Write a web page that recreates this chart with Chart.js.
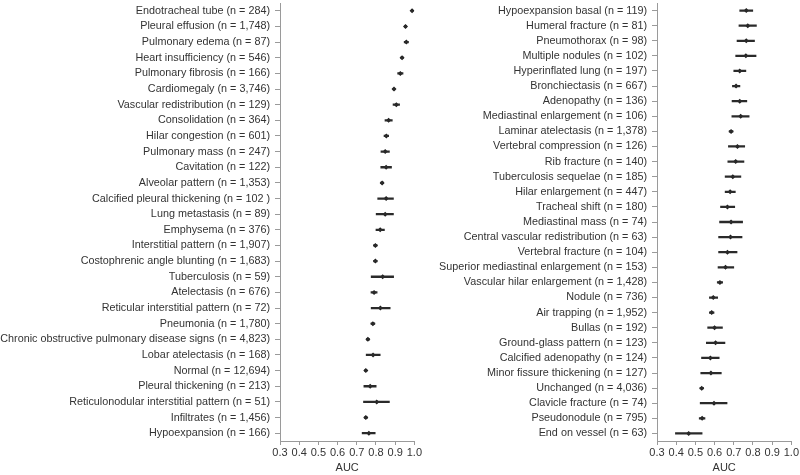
<!DOCTYPE html>
<html><head><meta charset="utf-8">
<script src="https://cdn.jsdelivr.net/npm/chart.js@4/dist/chart.umd.min.js"></script>
<style>
html,body{margin:0;padding:0;background:#fff;width:800px;height:475px;overflow:hidden;position:relative}
#c1{position:absolute;left:0;top:-1px}
#c2{position:absolute;left:420px;top:-1px}
</style></head><body>
<canvas id="c1" width="423" height="476"></canvas>
<canvas id="c2" width="380" height="476"></canvas>
<script>
// ---------- Left panel ----------
const leftLabels = [
  "Endotracheal tube (n = 284)",
  "Pleural effusion (n = 1,748)",
  "Pulmonary edema (n = 87)",
  "Heart insufficiency (n = 546)",
  "Pulmonary fibrosis (n = 166)",
  "Cardiomegaly (n = 3,746)",
  "Vascular redistribution (n = 129)",
  "Consolidation (n = 364)",
  "Hilar congestion (n = 601)",
  "Pulmonary mass (n = 247)",
  "Cavitation (n = 122)",
  "Alveolar pattern (n = 1,353)",
  "Calcified pleural thickening (n = 102 )",
  "Lung metastasis (n = 89)",
  "Emphysema (n = 376)",
  "Interstitial pattern (n = 1,907)",
  "Costophrenic angle blunting (n = 1,683)",
  "Tuberculosis (n = 59)",
  "Atelectasis (n = 676)",
  "Reticular interstitial pattern (n = 72)",
  "Pneumonia (n = 1,780)",
  "Chronic obstructive pulmonary disease signs (n = 4,823)",
  "Lobar atelectasis (n = 168)",
  "Normal (n = 12,694)",
  "Pleural thickening (n = 213)",
  "Reticulonodular interstitial pattern (n = 51)",
  "Infiltrates (n = 1,456)",
  "Hypoexpansion (n = 166)"
];
const leftAUC = [0.988,0.954,0.958,0.936,0.927,0.894,0.906,0.866,0.854,0.848,0.853,0.832,0.853,0.848,0.822,0.797,0.797,0.835,0.790,0.823,0.784,0.758,0.785,0.747,0.770,0.804,0.747,0.763];
const leftLower = [0.984,0.948,0.947,0.930,0.913,0.889,0.889,0.847,0.842,0.826,0.825,0.824,0.809,0.801,0.800,0.788,0.788,0.775,0.774,0.775,0.774,0.750,0.749,0.741,0.737,0.735,0.739,0.728];
const leftUpper = [0.992,0.960,0.969,0.942,0.941,0.899,0.923,0.885,0.866,0.870,0.881,0.840,0.891,0.891,0.844,0.806,0.806,0.892,0.806,0.874,0.794,0.766,0.822,0.753,0.801,0.870,0.755,0.796];

// ---------- Right panel ----------
const rightLabels = [
  "Hypoexpansion basal (n = 119)",
  "Humeral fracture (n = 81)",
  "Pneumothorax (n = 98)",
  "Multiple nodules (n = 102)",
  "Hyperinflated lung (n = 197)",
  "Bronchiectasis (n = 667)",
  "Adenopathy (n = 136)",
  "Mediastinal enlargement (n = 106)",
  "Laminar atelectasis (n = 1,378)",
  "Vertebral compression (n = 126)",
  "Rib fracture (n = 140)",
  "Tuberculosis sequelae (n = 185)",
  "Hilar enlargement (n = 447)",
  "Tracheal shift (n = 180)",
  "Mediastinal mass (n = 74)",
  "Central vascular redistribution (n = 63)",
  "Vertebral fracture (n = 104)",
  "Superior mediastinal enlargement (n = 153)",
  "Vascular hilar enlargement (n = 1,428)",
  "Nodule (n = 736)",
  "Air trapping (n = 1,952)",
  "Bullas (n = 192)",
  "Ground-glass pattern (n = 123)",
  "Calcified adenopathy (n = 124)",
  "Minor fissure thickening (n = 127)",
  "Unchanged (n = 4,036)",
  "Clavicle fracture (n = 74)",
  "Pseudonodule (n = 795)",
  "End on vessel (n = 63)"
];
const rightAUC = [0.765,0.773,0.765,0.763,0.731,0.712,0.731,0.736,0.686,0.719,0.710,0.695,0.681,0.667,0.686,0.683,0.667,0.657,0.628,0.593,0.585,0.600,0.605,0.578,0.581,0.533,0.597,0.535,0.465];
const rightLower = [0.731,0.727,0.717,0.710,0.700,0.693,0.691,0.690,0.676,0.672,0.669,0.655,0.655,0.631,0.626,0.621,0.621,0.618,0.614,0.573,0.573,0.564,0.557,0.532,0.528,0.524,0.525,0.520,0.396];
const rightUpper = [0.799,0.818,0.808,0.816,0.763,0.732,0.768,0.780,0.696,0.757,0.753,0.737,0.708,0.705,0.746,0.743,0.717,0.700,0.642,0.616,0.597,0.641,0.654,0.624,0.635,0.542,0.665,0.550,0.535];

const xTicksMin = 0.3, xTicksMax = 1.0, xStep = 0.1;
const axisTitle = "AUC";

Chart.defaults.font.family = '"Liberation Sans", Arial, Helvetica, sans-serif';
Chart.defaults.font.size = 11;
Chart.defaults.color = '#333';

function makeChart(canvasId, labels, auc, lo, hi, yWidth, padRight) {
  return new Chart(document.getElementById(canvasId), {
    type: 'bar',
    data: {
      labels: labels,
      datasets: [
        {
          type: 'bar',
          indexAxis: 'y',
          data: lo.map((l, i) => [l, hi[i]]),
          backgroundColor: '#2a2a2a',
          borderWidth: 0,
          barThickness: 1.6,
          grouped: false
        },
        {
          type: 'line',
          indexAxis: 'y',
          data: auc,
          showLine: false,
          pointStyle: 'rectRot',
          pointRadius: 2.5,
          pointBackgroundColor: '#1e1e1e',
          pointBorderColor: '#1e1e1e',
          pointBorderWidth: 0
        }
      ]
    },
    options: {
      indexAxis: 'y',
      responsive: false,
      animation: false,
      layout: { padding: { left: 0, right: padRight, top: 0, bottom: 0 } },
      plugins: { legend: { display: false }, tooltip: { enabled: false } },
      scales: {
        x: {
          type: 'linear',
          min: xTicksMin, max: xTicksMax,
          grid: { display: true, drawOnChartArea: false, drawTicks: true, tickLength: 4, color: '#9a9a9a' },
          border: { display: true, color: '#9a9a9a', width: 1 },
          ticks: { stepSize: xStep, padding: 1, color: '#333', font: { size: 11 },
                   callback: v => Number(v).toFixed(1), maxRotation: 0 },
          title: { display: true, text: axisTitle, color: '#333', font: { size: 11 }, padding: { top: 0, bottom: 0 } },
          afterFit: s => { s.height = 34; }
        },
        y: {
          type: 'category',
          offset: true,
          grid: { display: true, drawOnChartArea: false, drawTicks: true, tickLength: 5, color: '#9a9a9a', offset: false },
          border: { display: true, color: '#9a9a9a', width: 1 },
          ticks: { autoSkip: false, padding: 5, color: '#333', font: { size: 10.8 } },
          afterFit: s => { s.width = yWidth; s.paddingTop = 0; s.paddingBottom = 0; }
        }
      }
    }
  });
}

makeChart('c1', leftLabels, leftAUC, leftLower, leftUpper, 280, 8);
makeChart('c2', rightLabels, rightAUC, rightLower, rightUpper, 237, 7);
</script>
</body></html>
